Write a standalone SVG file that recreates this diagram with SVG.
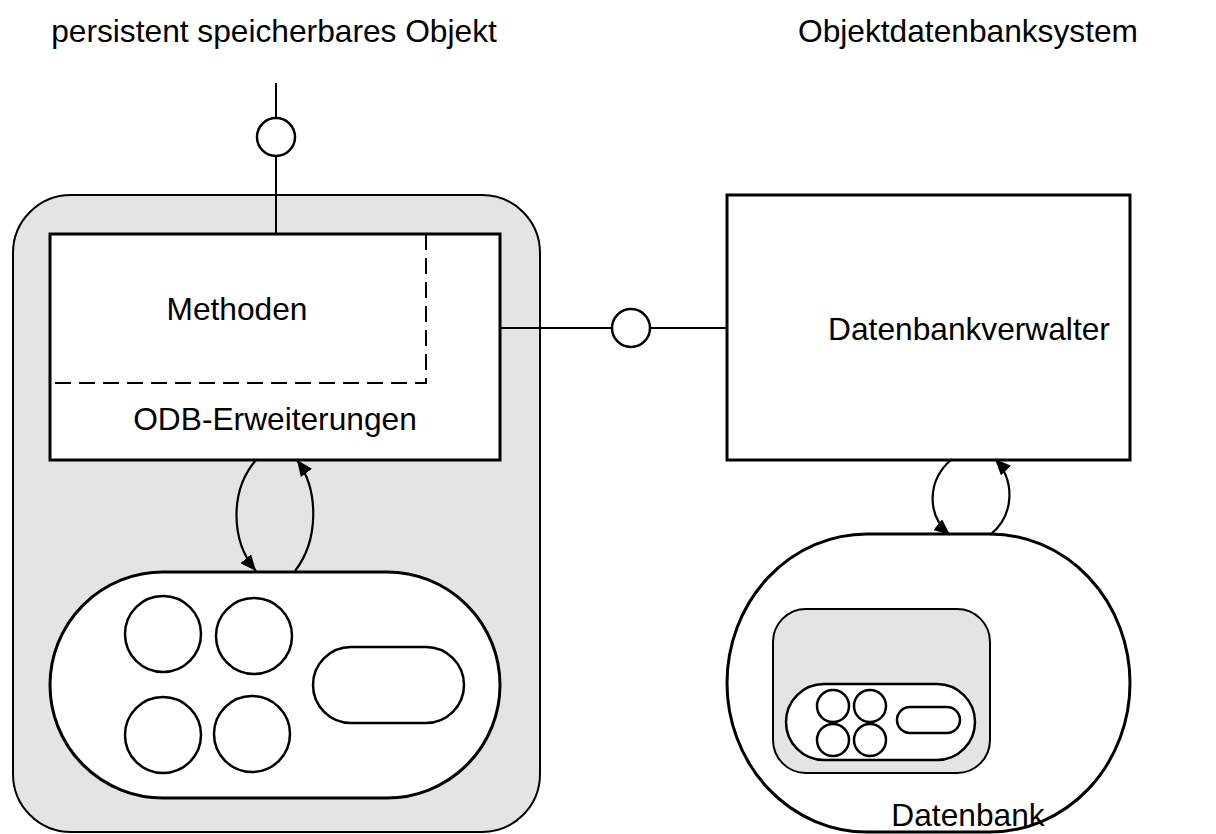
<svg xmlns="http://www.w3.org/2000/svg" width="1216" height="834" viewBox="0 0 1216 834">
  <style>
    .lbl { font-family: "Liberation Sans", Arial, sans-serif; font-size: 31.7px; fill: #000; text-anchor: middle; }
    .shell { fill: #e4e4e4; stroke: #000; stroke-width: 2; }
    .box { fill: #fff; stroke: #000; stroke-width: 3; }
    .thin { fill: #fff; stroke: #000; stroke-width: 2.5; }
    .line { fill: none; stroke: #000; stroke-width: 2; }
    .port { fill: #fff; stroke: #000; stroke-width: 2.5; }
    .dash { fill: none; stroke: #000; stroke-width: 2; stroke-dasharray: 16 8; }
    .flow { fill: none; stroke: #000; stroke-width: 2.2; marker-end: url(#arrow); }
  </style>
  <defs>
    <marker id="arrow" markerUnits="userSpaceOnUse" markerWidth="18" markerHeight="14" refX="16" refY="7" orient="auto">
      <path d="M0,0 L16,7 L0,14 Z" fill="#000"/>
    </marker>
  </defs>

  <rect width="1216" height="834" fill="#fff"/>

  <!-- titles -->
  <text class="lbl" x="274" y="42">persistent speicherbares Objekt</text>
  <text class="lbl" x="968" y="42">Objektdatenbanksystem</text>

  <!-- persistent object -->
  <g id="persistent-object">
    <rect class="shell" x="13" y="195" width="527" height="637" rx="58" ry="58"/>
    <rect class="box" x="50" y="234" width="450" height="226"/>
    <path class="dash" d="M426,234 V383 H50"/>
    <text class="lbl" x="237" y="320">Methoden</text>
    <text class="lbl" x="275" y="430">ODB-Erweiterungen</text>
  </g>

  <!-- object state -->
  <g id="object-state">
    <rect class="box" x="50" y="572" width="450" height="226" rx="113" ry="113"/>
    <circle class="thin" cx="163" cy="634" r="38"/>
    <circle class="thin" cx="254" cy="636" r="38"/>
    <circle class="thin" cx="163" cy="735" r="38"/>
    <circle class="thin" cx="252" cy="734" r="38"/>
    <rect class="thin" x="313" y="647" width="151" height="76" rx="38" ry="38"/>
  </g>

  <!-- database manager -->
  <g id="db-manager">
    <rect class="box" x="727" y="195" width="403" height="265"/>
    <text class="lbl" x="969" y="340">Datenbankverwalter</text>
  </g>

  <!-- database -->
  <g id="database">
    <rect class="box" x="727" y="534" width="403" height="298" rx="140" ry="149"/>
    <rect class="shell" x="773" y="609" width="217" height="164" rx="33" ry="33"/>
    <rect class="thin" x="786" y="684" width="189" height="76" rx="38" ry="38"/>
    <circle class="thin" cx="833" cy="706" r="16"/>
    <circle class="thin" cx="870" cy="706" r="16"/>
    <circle class="thin" cx="833" cy="740" r="16"/>
    <circle class="thin" cx="870" cy="740" r="16"/>
    <rect class="thin" x="897" y="707" width="63" height="26" rx="13" ry="13"/>
    <text class="lbl" x="968" y="826">Datenbank</text>
  </g>

  <!-- connectors -->
  <g id="connectors">
    <line class="line" x1="276" y1="83" x2="276" y2="118"/>
    <circle class="port" cx="276" cy="137" r="19"/>
    <line class="line" x1="276" y1="156" x2="276" y2="234"/>

    <line class="line" x1="500" y1="328" x2="612" y2="328"/>
    <circle class="port" cx="631" cy="328" r="19"/>
    <line class="line" x1="650" y1="328" x2="727" y2="328"/>

    <path class="flow" d="M256,460 C230,490 230,540 256,571"/>
    <path class="flow" d="M295,571 C319,540 319,490 297,460"/>
    <path class="flow" d="M952,459 C927,480 926,515 950,535"/>
    <path class="flow" d="M990,535 C1015,515 1015,480 995,459"/>
  </g>
</svg>
